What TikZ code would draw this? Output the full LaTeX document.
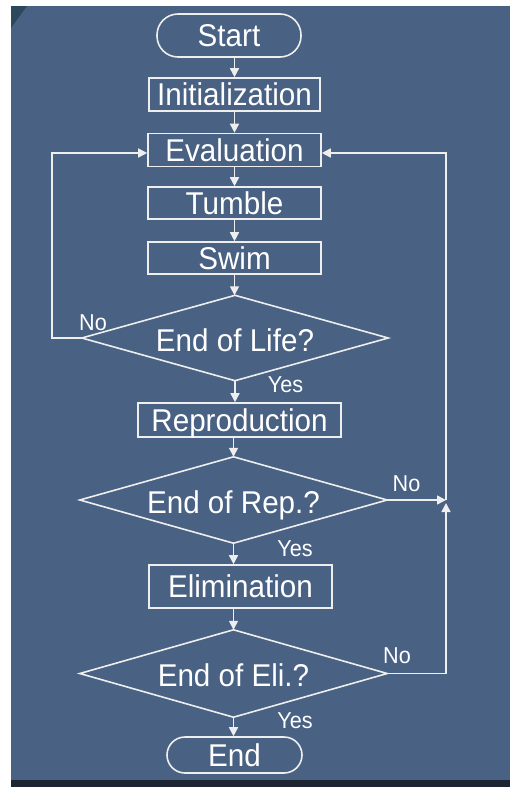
\documentclass[tikz,border=0pt]{standalone}
\usepackage{fontspec}
\setmainfont{Liberation Sans}[FakeStretch=0.94]
\usetikzlibrary{arrows.meta}
\definecolor{bgblue}{RGB}{73,97,131}
\definecolor{lineC}{RGB}{238,238,238}
\definecolor{darkstrip}{RGB}{28,38,50}
\definecolor{cornerC}{RGB}{44,72,92}
\begin{document}
\begin{tikzpicture}[x=1pt,y=1pt,
  box/.style={draw=lineC,line width=1.6pt,text=white,font=\fontsize{31.5}{34}\selectfont,inner sep=0pt,text height=22.5pt,text depth=0pt},
  term/.style={box},
  dec/.style={rectangle,text=white,font=\fontsize{31.5}{34}\selectfont,inner sep=0pt,text height=26.5pt,text depth=0pt},
  decline/.style={draw=lineC,line width=1.6pt,line join=miter},
  lab/.style={text=white,font=\fontsize{23}{25}\selectfont,inner sep=0pt,text height=16.5pt,text depth=0pt},
  arr/.style={draw=lineC,line width=1.6pt,-{Triangle[length=9pt,width=9pt]}},
  ln/.style={draw=lineC,line width=1.6pt}]
\useasboundingbox (0,0) rectangle (510,-787);
% background
\fill[white] (0,0) rectangle (510,-787);
\fill[bgblue] (11,-6) rectangle (510,-780);
\fill[darkstrip] (11,-780) rectangle (510,-787);
\fill[cornerC] (11,-6) -- (27,-6) -- (11,-28) -- cycle;
% nodes
\node[term,minimum width=144pt,minimum height=43pt,rounded corners=21pt] (start) at (229,-35.5) {Start};
\node[box,minimum width=171pt,minimum height=33pt] (init) at (234.5,-94.5) {Initialization};
\node[box,minimum width=173pt,minimum height=33pt] (eval) at (234.5,-150) {Evaluation};
\node[box,minimum width=173pt,minimum height=32pt] (tumble) at (234.5,-203) {Tumble};
\node[box,minimum width=173pt,minimum height=32pt] (swim) at (234.5,-258) {Swim};
\node[dec,minimum width=306pt,minimum height=85pt] (life) at (235,-338) {End of Life?};
\node[box,minimum width=203pt,minimum height=34pt] (rep) at (239.5,-420) {Reproduction};
\node[dec,minimum width=307pt,minimum height=86pt] (repq) at (233.5,-500) {End of Rep.?};
\node[box,minimum width=183pt,minimum height=43pt] (elim) at (240.5,-586.5) {Elimination};
\node[dec,minimum width=307pt,minimum height=87pt] (eliq) at (233.5,-673.5) {End of Eli.?};
\node[term,minimum width=135pt,minimum height=36pt,rounded corners=18pt] (end) at (234.5,-755) {End};
\coordinate (j) at (446,-500);
% diamond outlines
\foreach \d in {life,repq,eliq}
  \draw[decline] (\d.north) -- (\d.east) -- (\d.south) -- (\d.west) -- cycle;
% labels
\node[lab] (no1) at (93,-322) {No};
\node[lab] (yes1) at (285.5,-384) {Yes};
\node[lab] (no2) at (406.5,-483.5) {No};
\node[lab] (yes2) at (295,-548.5) {Yes};
\node[lab] (no3) at (397,-655) {No};
\node[lab] (yes3) at (295,-720) {Yes};
% connectors
\draw[arr] (start.south -| init.north) -- (init.north);
\draw[arr] (init) -- (eval);
\draw[arr] (eval) -- (tumble);
\draw[arr] (tumble) -- (swim);
\draw[arr] (swim.south) -- (swim.south |- life.north);
\draw[arr] (life.south) -- (life.south |- rep.north);
\draw[arr] (rep.south -| repq.north) -- (repq.north);
\draw[arr] (repq.south) -- (repq.south |- elim.north);
\draw[arr] (elim.south -| eliq.north) -- (eliq.north);
\draw[arr] (eliq.south) -- (eliq.south |- end.north);
\draw[arr] (life.west) -- ++(-30,0) |- ([yshift=-3pt]eval.west);
\draw[arr] (repq.east) -- (j);
\draw[arr] (eliq.east) -| ([yshift=-3pt]j);
\draw[arr] (j) |- ([yshift=-3pt]eval.east);
\end{tikzpicture}
\end{document}
